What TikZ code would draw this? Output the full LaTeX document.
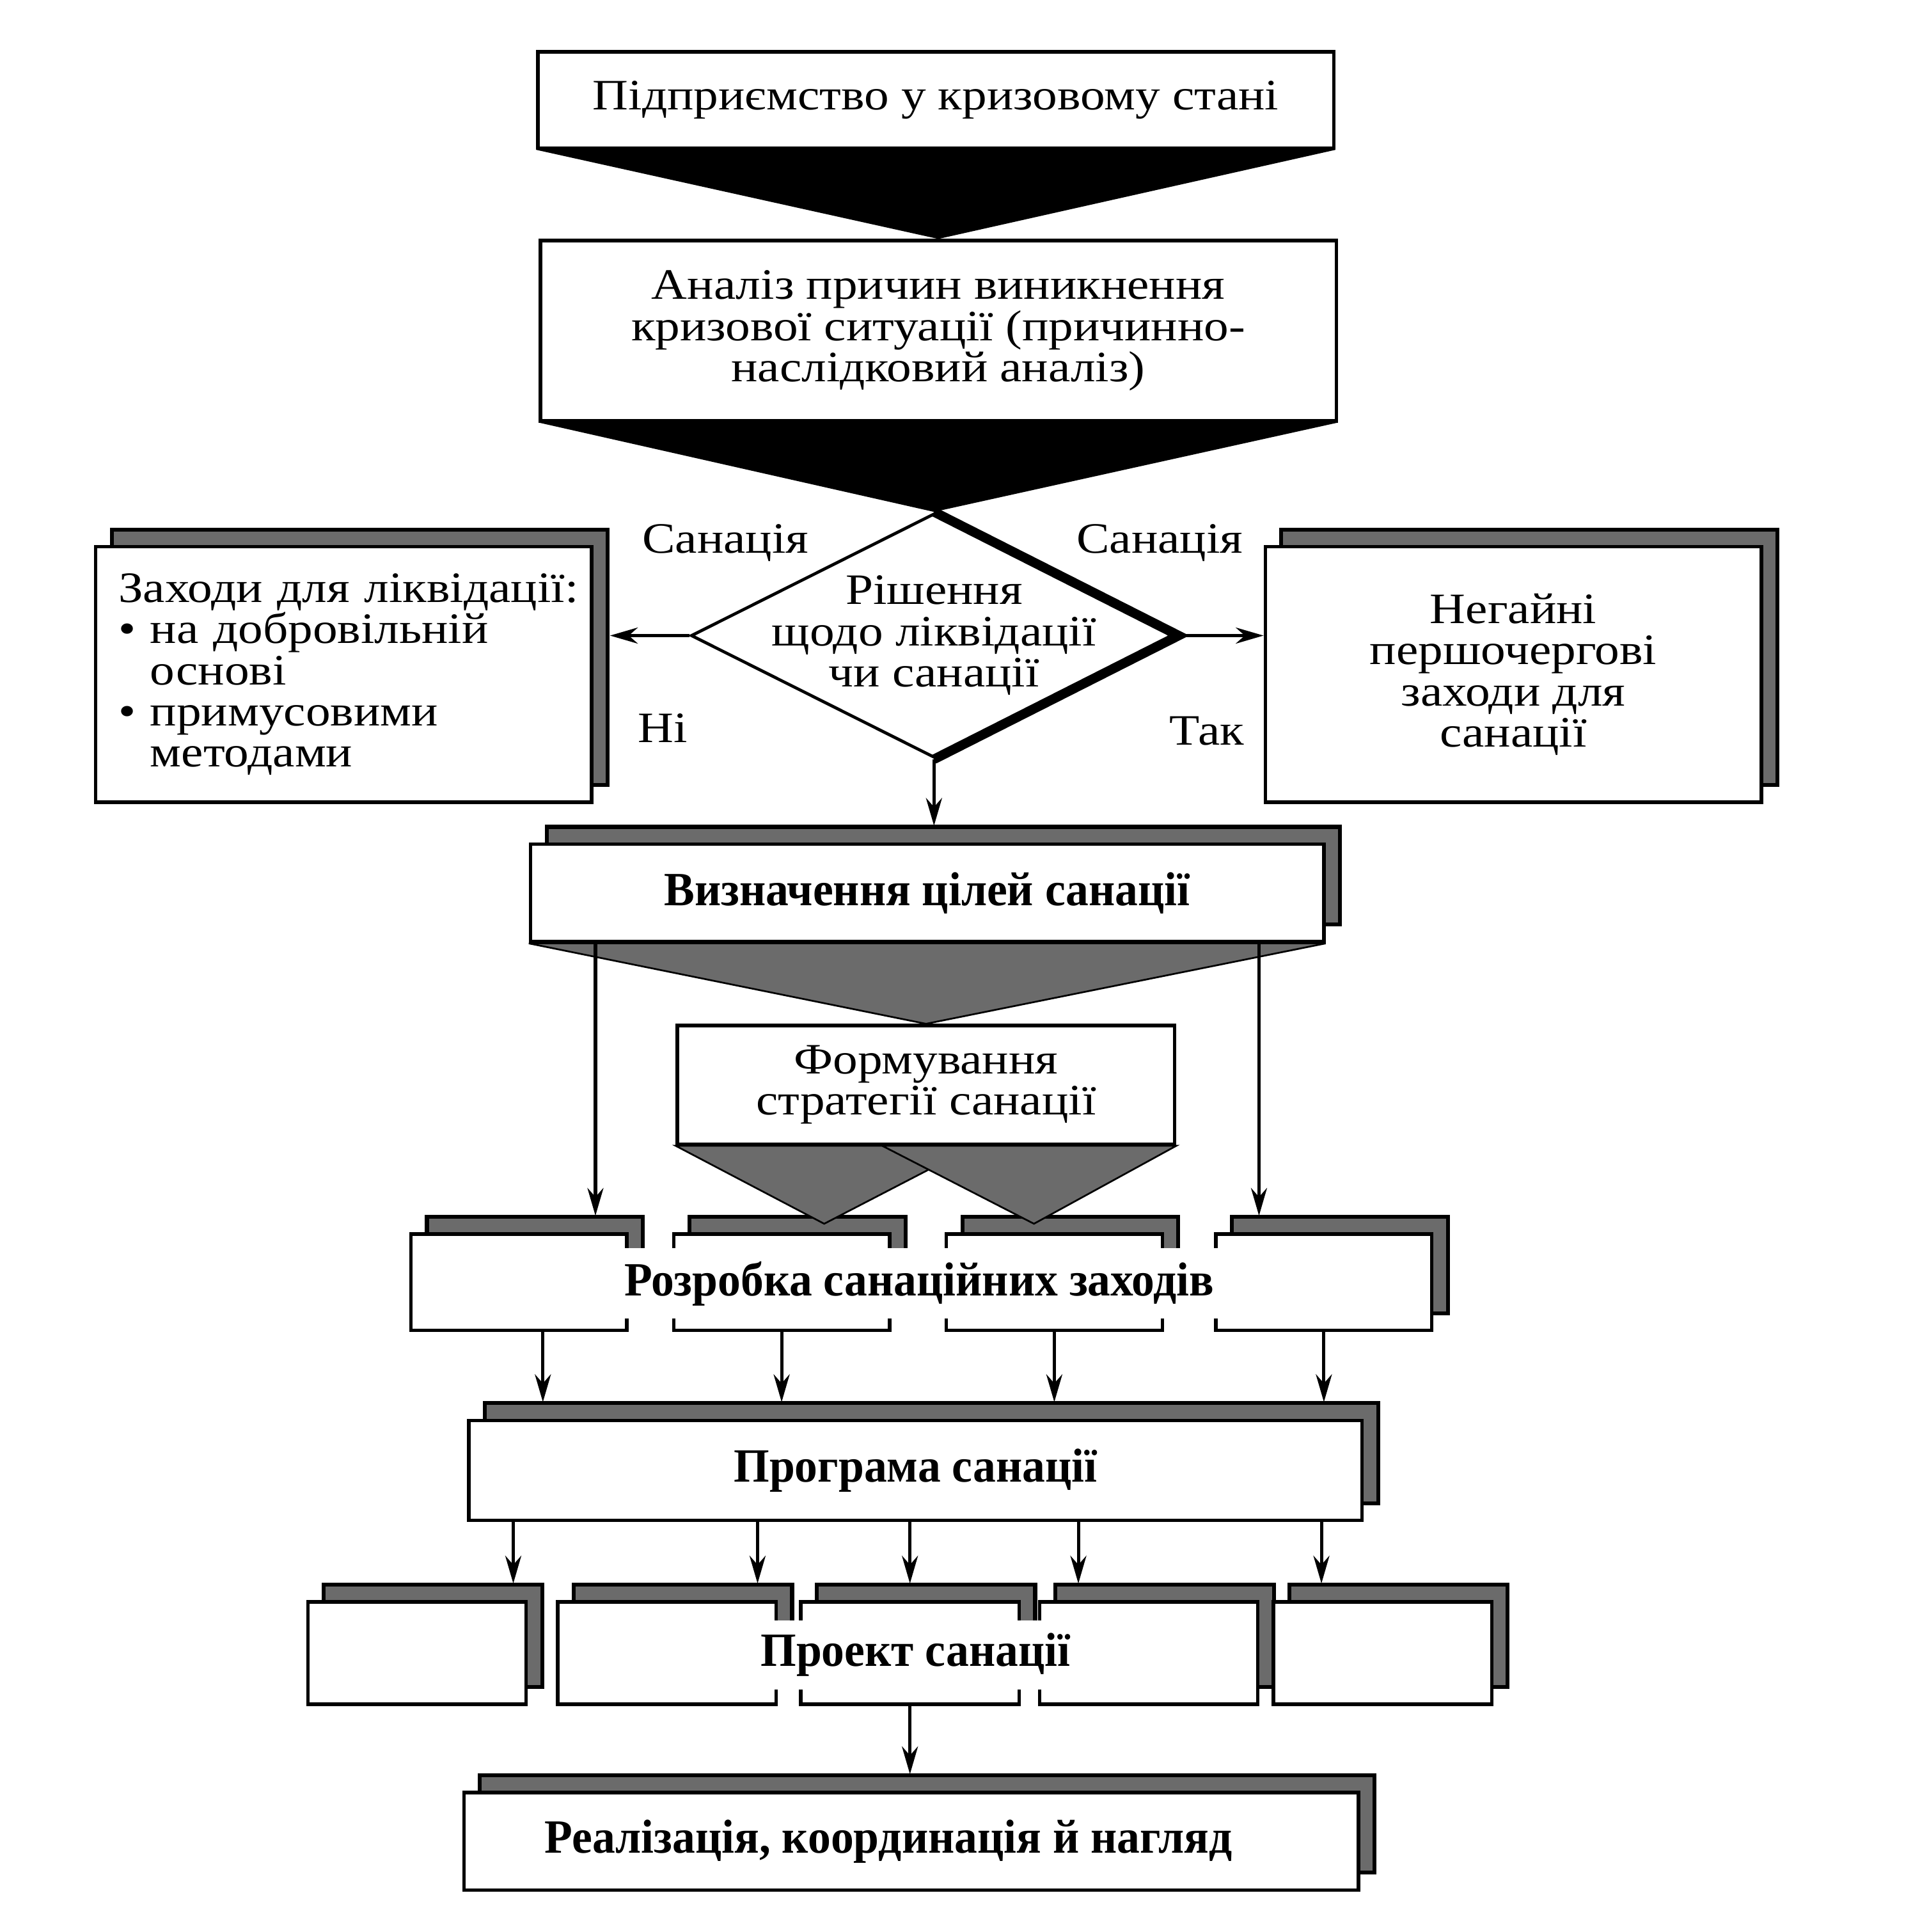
\documentclass[tikz,border=0pt]{standalone}
\usepackage{fontspec}
\setmainfont{Liberation Serif}[FakeStretch=1.14]
\newfontfamily\condbf{Liberation Serif}[FakeStretch=0.96]
\usetikzlibrary{shapes.geometric,shadows,arrows.meta,calc}

\tikzset{
  txt/.style={font=\fontsize{20}{19}\selectfont},
  boldtxt/.style={font=\condbf\bfseries\fontsize{22}{19}\selectfont},
  plain/.style={draw, line width=1.6pt, fill=white, inner sep=0pt, align=center, txt},
  shbox/.style={plain, copy shadow={shadow xshift=0.26cm, shadow yshift=0.28cm,
      fill=black!58, draw=black, line width=1.8pt}},
  dec/.style={diamond, draw, line width=1.4pt, fill=white, aspect=2, inner sep=-1cm,
      minimum width=7.88cm, minimum height=3.96cm, align=center, txt},
  tag/.style={inner sep=0pt, txt},
  blackfun/.style={fill=black},
  greyfun/.style={fill=black!58, draw=black, line width=0.8pt},
  arr/.style={-{Stealth[length=0.45cm, width=0.26cm]}, line width=1.5pt},
  toshadow/.style={shorten >=0.27cm}
}

\begin{document}
\begin{tikzpicture}
  \useasboundingbox (0,0) rectangle (31,-31.31);
  % Define boxes
  \node[plain, minimum width=12.9cm, minimum height=1.56cm] (ent) at (15.17,-1.62)
    {Підприємство у кризовому стані};
  \node[plain, minimum width=12.9cm, minimum height=2.92cm] (anal) at (15.21,-5.36)
    {Аналіз причин виникнення\\кризової ситуації (причинно-\\наслідковий аналіз)};
  \node[dec] (dec) at (15.14,-10.30) {Рішення\\щодо ліквідації\\чи санації};
  \node[shbox, align=left, text width=7.3cm, inner xsep=0.37cm, minimum height=4.14cm] (liq) at (5.57,-10.93)
    {\mbox{Заходи для ліквідації:}\\• на добровільній\\\phantom{• }основі\\• примусовими\\\phantom{• }методами};
  \node[shbox, minimum width=8.04cm, minimum height=4.14cm] (san) at (24.53,-10.93)
    {Негайні\\першочергові\\заходи для\\санації};
  \node[shbox, boldtxt, minimum width=12.86cm, minimum height=1.58cm] (goal) at (15.03,-14.47)
    {Визначення цілей санації};
  \node[plain, minimum width=8.06cm, minimum height=1.92cm] (strat) at (15.01,-17.58)
    {Формування\\стратегії санації};
  % Define sub-boxes of the measures
  \foreach \name/\x in {rzA/8.41, rzB/12.67, rzC/17.09, rzD/21.46}
    \node[shbox, minimum width=3.5cm, minimum height=1.56cm] (\name) at (\x,-20.78) {};
  \node[boldtxt, fill=white, inner xsep=3pt, inner ysep=6pt] (rz) at (14.90,-20.80)
    {Розробка санаційних заходів};
  \node[shbox, boldtxt, minimum width=14.48cm, minimum height=1.62cm] (prog) at (14.84,-23.83)
    {Програма санації};
  \foreach \name/\x in {pr1/6.76, pr2/10.81, pr3/14.75, pr4/18.62, pr5/22.41}
    \node[shbox, minimum width=3.54cm, minimum height=1.66cm] (\name) at (\x,-26.79) {};
  \node[boldtxt, fill=white, inner xsep=3pt, inner ysep=6pt] (proj) at (14.84,-26.82)
    {Проект санації};
  \node[shbox, boldtxt, minimum width=14.5cm, minimum height=1.58cm] (real) at (14.77,-29.84)
    {Реалізація, координація й нагляд\hspace*{0.74cm}};
  % Define labels
  \node[tag] (sanl) at (11.76,-8.80) {Санація};
  \node[tag] (sanr) at (18.80,-8.80) {Санація};
  \node[tag] (no) at (10.74,-11.80) {Ні};
  \node[tag] (yes) at (19.56,-11.85) {Так};
  % Define funnels
  \fill[blackfun] (ent.south west) -- (ent.south east) -- (anal.north) -- cycle;
  \fill[blackfun] (anal.south west) -- (anal.south east) -- (dec.north) -- cycle;
  \filldraw[greyfun] (goal.south west) -- (goal.south east) -- (strat.north) -- cycle;
  \filldraw[greyfun] (strat.south west) -- ($(strat.south)+(0.79,0)$) -- ($(rzB.north)+(0.69,0.14)$) -- cycle;
  \filldraw[greyfun] ($(strat.south)+(-0.71,0)$) -- (strat.south east) -- ($(rzC.north)+(-0.33,0.14)$) -- cycle;
  \draw[line width=4.4pt] (dec.north) -- (dec.east) -- (dec.south);
  % Define arrows
  \draw[arr, toshadow] (dec.west) -- (dec.west -| liq.east);
  \draw[arr] (dec.east) -- (dec.east -| san.west);
  \draw[arr, toshadow] (dec.south) -- (dec.south |- goal.north);
  \draw[arr, toshadow] ($(goal.south west)+(1.08,0)$) -- ($(goal.south west |- rzA.north)+(1.08,0)$);
  \draw[arr, toshadow] ($(goal.south east)+(-1.08,0)$) -- ($(goal.south east |- rzD.north)+(-1.08,0)$);
  \draw[arr, toshadow] ($(rzA.south)+(0.39,0)$) -- ($(rzA.south |- prog.north)+(0.39,0)$);
  \foreach \b in {rzB, rzC, rzD}
    \draw[arr, toshadow] (\b.south) -- (\b.south |- prog.north);
  \foreach \b/\dx in {pr1/1.56, pr2/1.47, pr3/0, pr4/-1.14, pr5/-0.99}
    \draw[arr, toshadow] ($(\b.north |- prog.south)+(\dx,0)$) -- ($(\b.north)+(\dx,0)$);
  \draw[arr, toshadow] (pr3.south) -- (pr3.south |- real.north);
\end{tikzpicture}
\end{document}
